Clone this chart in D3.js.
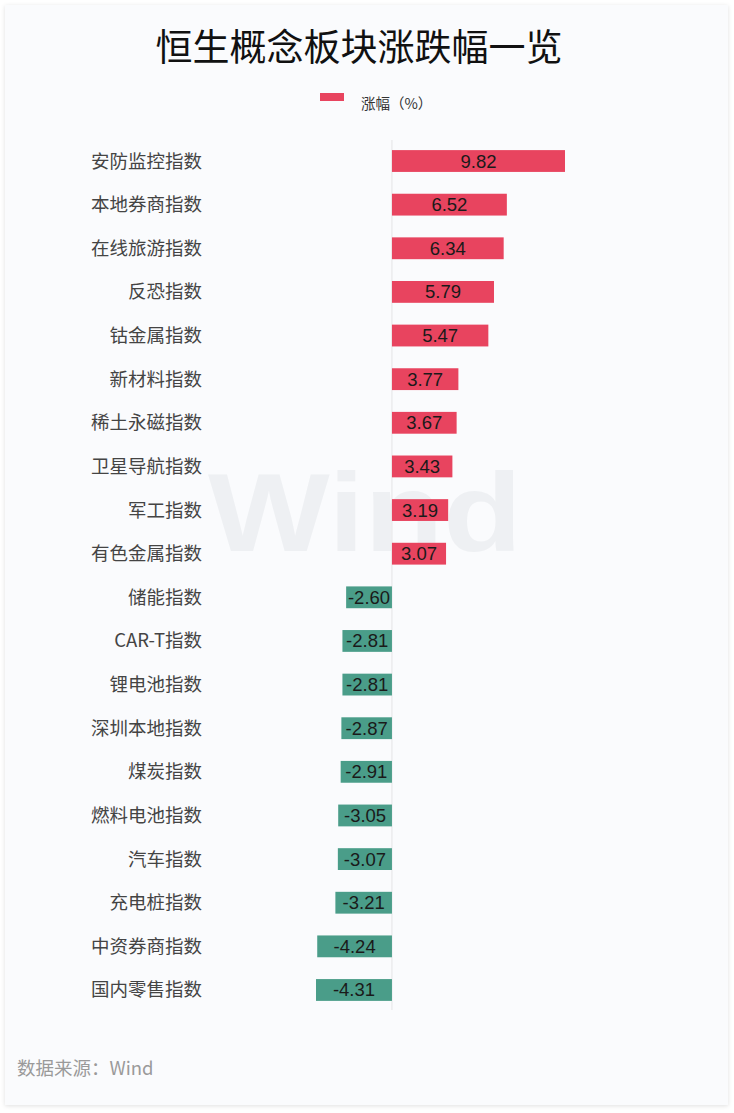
<!DOCTYPE html>
<html><head><meta charset="utf-8">
<script src="https://cdn.jsdelivr.net/npm/d3@7/dist/d3.min.js"></script>
<style>
html,body{margin:0;padding:0;background:#ffffff;}
svg{display:block;}
</style></head>
<body>
<svg id="chart" width="734" height="1113"></svg>
<script>
const categories = ["安防监控指数","本地券商指数","在线旅游指数","反恐指数","钴金属指数","新材料指数","稀土永磁指数","卫星导航指数","军工指数","有色金属指数","储能指数","CAR-T指数","锂电池指数","深圳本地指数","煤炭指数","燃料电池指数","汽车指数","充电桩指数","中资券商指数","国内零售指数"];
const values = [9.82,6.52,6.34,5.79,5.47,3.77,3.67,3.43,3.19,3.07,-2.60,-2.81,-2.81,-2.87,-2.91,-3.05,-3.07,-3.21,-4.24,-4.31];
const titleText = "恒生概念板块涨跌幅一览";
const legendText = "涨幅（%）";
const sourceText = "数据来源：Wind";

const svg = d3.select("#chart");
const defs = svg.append("defs");
const f = defs.append("filter").attr("id","sh").attr("x","-5%").attr("y","-5%").attr("width","110%").attr("height","110%");
f.append("feDropShadow").attr("dx",0).attr("dy",1).attr("stdDeviation",2).attr("flood-color","#000").attr("flood-opacity",0.12);

svg.append("rect").attr("x",5).attr("y",5).attr("width",723).attr("height",1100)
  .attr("fill","#fafbfd").attr("filter","url(#sh)");

// watermark
svg.append("text").attr("x",208).attr("y",551)
  .attr("font-family","Liberation Sans, Arial, sans-serif").attr("font-weight","bold")
  .attr("font-size",112).attr("fill","#eef0f3")
  .attr("textLength",314).attr("lengthAdjust","spacingAndGlyphs").text("Wind");

const x = d3.scaleLinear().domain([-4.31, 9.82]).range([316, 565]);
const y = d3.scaleBand().domain(categories).range([139.2, 1011.8]).paddingInner(0.5).paddingOuter(0.25);

svg.append("text").attr("x",359).attr("y",61).attr("text-anchor","middle")
  .attr("font-family","Noto Sans CJK SC, sans-serif").attr("font-size",37).attr("fill","#111")
  .text(titleText);

svg.append("rect").attr("x",320).attr("y",93).attr("width",24).attr("height",8).attr("fill","#e8445f");
svg.append("text").attr("x",361).attr("y",109)
  .attr("font-family","Noto Sans CJK SC, sans-serif").attr("font-size",14.5).attr("fill","#333")
  .text(legendText);

// zero line
svg.append("line").attr("x1",x(0)).attr("x2",x(0)).attr("y1",140).attr("y2",1010)
  .attr("stroke","#e4e4e6").attr("stroke-width",1);

const rows = svg.append("g").selectAll("g").data(categories).join("g");

rows.append("rect")
  .attr("x",(d,i)=>Math.min(x(0),x(values[i])))
  .attr("y",d=>y(d))
  .attr("width",(d,i)=>Math.abs(x(values[i])-x(0)))
  .attr("height",y.bandwidth())
  .attr("fill",(d,i)=>values[i]>=0?"#e8445f":"#4a9d89");

rows.append("text")
  .attr("x",(d,i)=>(x(0)+x(values[i]))/2)
  .attr("y",d=>y(d)+y.bandwidth()/2+6.5)
  .attr("text-anchor","middle")
  .attr("font-family","Liberation Sans, Arial, sans-serif").attr("font-size",18.5).attr("fill","#1a1a1a")
  .text((d,i)=>values[i].toFixed(2));

rows.append("text")
  .attr("x",202)
  .attr("y",d=>y(d)+y.bandwidth()/2+6.5)
  .attr("text-anchor","end")
  .attr("font-family","Noto Sans CJK SC, sans-serif").attr("font-size",18.5).attr("fill","#444")
  .text(d=>d);

svg.append("text").attr("x",17).attr("y",1075)
  .attr("font-family","Noto Sans CJK SC, sans-serif").attr("font-size",18.5).attr("fill","#9a9a9a")
  .text(sourceText);
</script>
</body></html>
